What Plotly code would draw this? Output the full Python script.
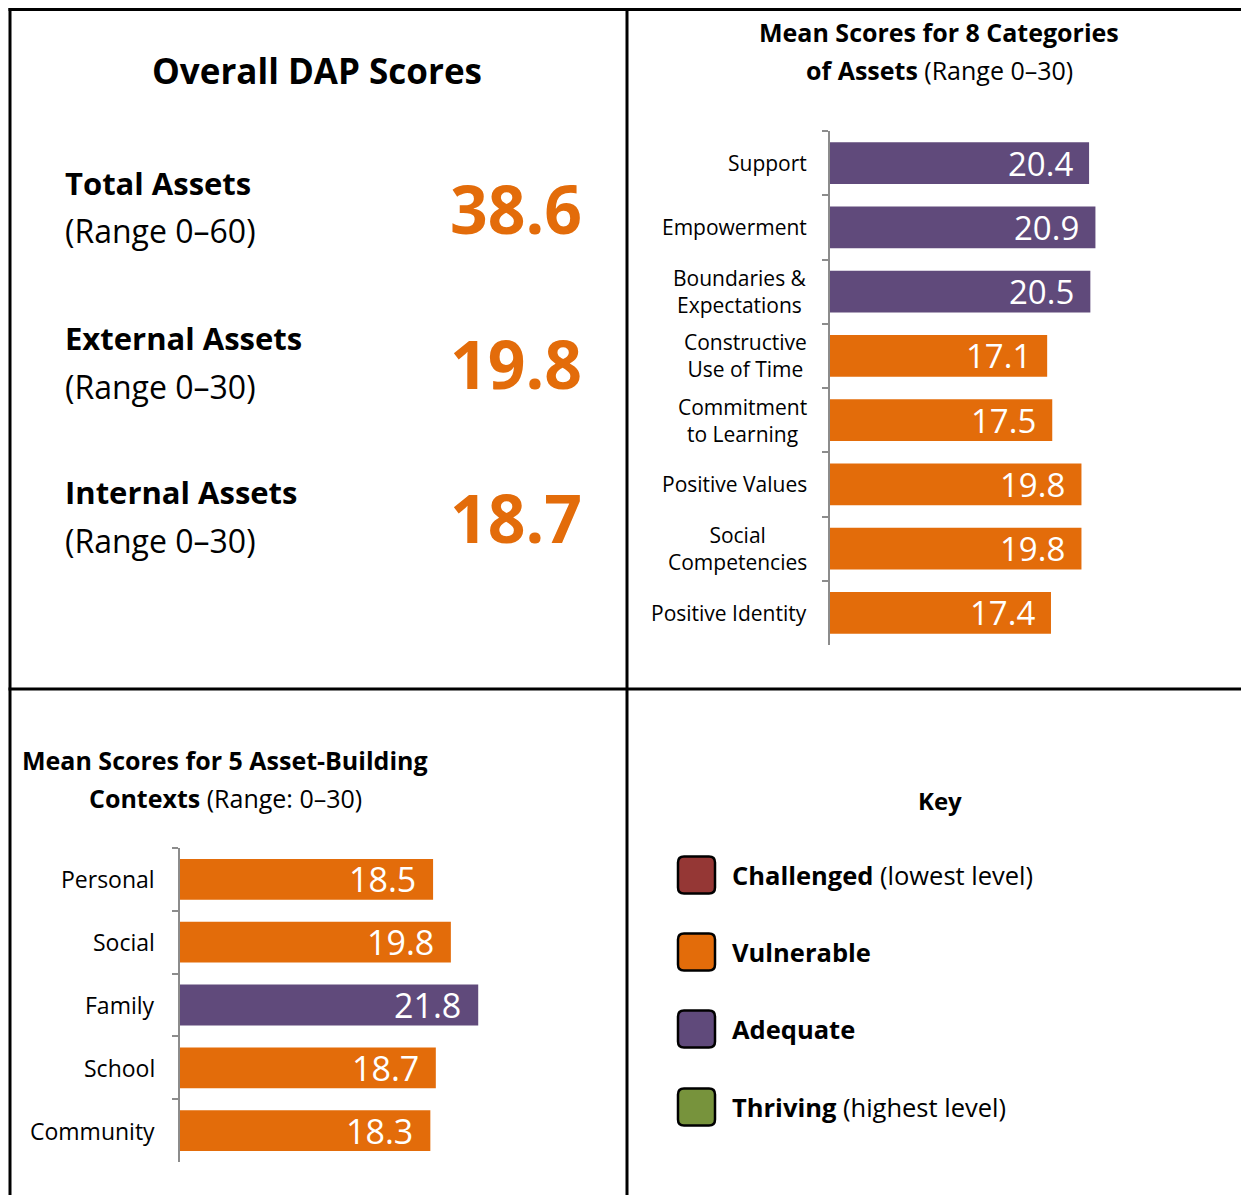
import plotly.graph_objects as go

W, H = 1241, 1195

# ---------------- data ----------------
summary_labels = ["Total Assets", "External Assets", "Internal Assets"]
summary_ranges = ["(Range 0–60)", "(Range 0–30)", "(Range 0–30)"]
summary_values = [38.6, 19.8, 18.7]

cat_names = ["Support", "Empowerment", "Boundaries &<br>Expectations",
             "Constructive<br>Use of Time", "Commitment<br>to Learning",
             "Positive Values", "Social<br>Competencies", "Positive Identity"]
cat_values = [20.4, 20.9, 20.5, 17.1, 17.5, 19.8, 19.8, 17.4]
cat_levels = ["Adequate", "Adequate", "Adequate", "Vulnerable", "Vulnerable",
              "Vulnerable", "Vulnerable", "Vulnerable"]

ctx_names = ["Personal", "Social", "Family", "School", "Community"]
ctx_values = [18.5, 19.8, 21.8, 18.7, 18.3]
ctx_levels = ["Vulnerable", "Vulnerable", "Adequate", "Vulnerable", "Vulnerable"]

key_levels = ["Challenged", "Vulnerable", "Adequate", "Thriving"]
key_notes = ["(lowest level)", "", "", "(highest level)"]

# ---------------- styles ----------------
LEVEL_COLORS = {"Challenged": "#953735", "Vulnerable": "#E36C0A",
                "Adequate": "#604A7B", "Thriving": "#77933C"}
FONT = "Open Sans"
ORANGE = "#E36C0A"
AXIS_GREY = "#8C8C8C"


def px(x):
    return x / W


def py(y):
    return 1 - y / H


# cat ids used on the category axes (plain text of names)
cat_ids = [n.replace("<br>", " ") for n in cat_names]

fig = go.Figure()

fig.add_trace(go.Bar(
    x=cat_values, y=cat_ids, orientation="h",
    marker=dict(color=[LEVEL_COLORS[l] for l in cat_levels], line=dict(width=0)),
    xaxis="x", yaxis="y", showlegend=False, hoverinfo="x+y"))

fig.add_trace(go.Bar(
    x=ctx_values, y=ctx_names, orientation="h",
    marker=dict(color=[LEVEL_COLORS[l] for l in ctx_levels], line=dict(width=0)),
    xaxis="x2", yaxis="y2", showlegend=False, hoverinfo="x+y"))

yaxis_common = dict(
    type="category", autorange="reversed", showline=True, linecolor=AXIS_GREY,
    linewidth=1.5, ticks="outside", tickson="boundaries", ticklen=6,
    tickcolor=AXIS_GREY, tickwidth=1.5, showticklabels=False, showgrid=False,
    zeroline=False, fixedrange=True)

fig.update_layout(
    width=W, height=H, margin=dict(l=0, r=0, t=0, b=0),
    paper_bgcolor="white", plot_bgcolor="rgba(0,0,0,0)",
    bargap=0.35, showlegend=False,
    font=dict(family=FONT, color="black"),
    xaxis=dict(domain=[px(830), px(830 + 30 * 12.7)], range=[0, 30],
               visible=False, fixedrange=True),
    yaxis=dict(domain=[py(645), py(131)], categoryorder="array",
               categoryarray=cat_ids, **yaxis_common),
    xaxis2=dict(domain=[px(180), px(180 + 30 * 13.68)], range=[0, 30],
                visible=False, fixedrange=True, anchor="y2"),
    yaxis2=dict(domain=[py(1162), py(848)], categoryorder="array",
                categoryarray=ctx_names, anchor="x2", **yaxis_common),
)

ann = []

# ---- panel borders ----
shapes = []
line = dict(color="black", width=3)
shapes.append(dict(type="line", xref="paper", yref="paper", x0=px(8.5), x1=1, y0=py(9.5), y1=py(9.5), line=line))
shapes.append(dict(type="line", xref="paper", yref="paper", x0=px(10), x1=px(10), y0=py(8), y1=0, line=line))
shapes.append(dict(type="line", xref="paper", yref="paper", x0=px(627), x1=px(627), y0=py(8), y1=0, line=line))
shapes.append(dict(type="line", xref="paper", yref="paper", x0=px(8.5), x1=1, y0=py(689), y1=py(689), line=line))

# ---- top-left summary panel ----
ann.append(dict(text="<b>Overall DAP Scores</b>", x=px(317), y=py(70), xref="paper", yref="paper",
                xanchor="center", yanchor="middle", showarrow=False, font=dict(size=35)))
label_y = [183, 338, 492]
for lab, rng, val, yy in zip(summary_labels, summary_ranges, summary_values, label_y):
    ann.append(dict(text=f"<b>{lab}</b>", x=px(63), y=py(yy), xref="paper", yref="paper",
                    xanchor="left", yanchor="middle", showarrow=False, font=dict(size=31)))
    ann.append(dict(text=rng, x=px(63), y=py(yy + 48), xref="paper", yref="paper",
                    xanchor="left", yanchor="middle", showarrow=False, font=dict(size=32)))
    ann.append(dict(text=f"<b>{val:.1f}</b>", x=px(584), y=py(yy + 25), xref="paper", yref="paper",
                    xanchor="right", yanchor="middle", showarrow=False,
                    font=dict(size=66, color=ORANGE)))

# ---- top-right chart ----
ann.append(dict(text="<b>Mean Scores for 8 Categories</b>", x=px(939), y=py(32), xref="paper",
                yref="paper", xanchor="center", yanchor="middle", showarrow=False, font=dict(size=25)))
ann.append(dict(text="<b>of Assets</b> (Range 0–30)", x=px(939), y=py(70), xref="paper",
                yref="paper", xanchor="center", yanchor="middle", showarrow=False, font=dict(size=25)))
for name, cid, val in zip(cat_names, cat_ids, cat_values):
    ann.append(dict(text=name, x=px(809), y=cid, xref="paper", yref="y", xanchor="right",
                    yanchor="middle", align="center", showarrow=False, font=dict(size=21)))
    ann.append(dict(text=f"{val:.1f}", x=val, y=cid, xref="x", yref="y", xanchor="right",
                    yanchor="middle", xshift=-14, showarrow=False, font=dict(size=33, color="white")))

# ---- bottom-left chart ----
ann.append(dict(text="<b>Mean Scores for 5 Asset-Building</b>", x=px(225), y=py(760), xref="paper",
                yref="paper", xanchor="center", yanchor="middle", showarrow=False, font=dict(size=25)))
ann.append(dict(text="<b>Contexts</b> (Range: 0–30)", x=px(225), y=py(798), xref="paper",
                yref="paper", xanchor="center", yanchor="middle", showarrow=False, font=dict(size=25)))
for name, val in zip(ctx_names, ctx_values):
    ann.append(dict(text=name, x=px(157), y=name, xref="paper", yref="y2", xanchor="right",
                    yanchor="middle", align="center", showarrow=False, font=dict(size=23)))
    ann.append(dict(text=f"{val:.1f}", x=val, y=name, xref="x2", yref="y2", xanchor="right",
                    yanchor="middle", xshift=-15, showarrow=False, font=dict(size=34, color="white")))

# ---- key panel ----
ann.append(dict(text="<b>Key</b>", x=px(940), y=py(800), xref="paper", yref="paper",
                xanchor="center", yanchor="middle", showarrow=False, font=dict(size=24)))
key_y = [875, 952, 1029, 1107]
for lvl, note, yy in zip(key_levels, key_notes, key_y):
    x0, x1, y0, y1, r = 678, 715, yy - 18.5, yy + 18.5, 6
    path = (f"M {px(x0 + r)} {py(y0)} L {px(x1 - r)} {py(y0)} Q {px(x1)} {py(y0)} {px(x1)} {py(y0 + r)} "
            f"L {px(x1)} {py(y1 - r)} Q {px(x1)} {py(y1)} {px(x1 - r)} {py(y1)} "
            f"L {px(x0 + r)} {py(y1)} Q {px(x0)} {py(y1)} {px(x0)} {py(y1 - r)} "
            f"L {px(x0)} {py(y0 + r)} Q {px(x0)} {py(y0)} {px(x0 + r)} {py(y0)} Z")
    shapes.append(dict(type="path", xref="paper", yref="paper", path=path,
                       fillcolor=LEVEL_COLORS[lvl], line=dict(color="black", width=2.5)))
    txt = f"<b>{lvl}</b>" + (f" {note}" if note else "")
    ann.append(dict(text=txt, x=px(730), y=py(yy), xref="paper", yref="paper", xanchor="left",
                    yanchor="middle", showarrow=False, font=dict(size=25.5)))

fig.update_layout(annotations=ann, shapes=shapes)
fig.write_html("out.html")
